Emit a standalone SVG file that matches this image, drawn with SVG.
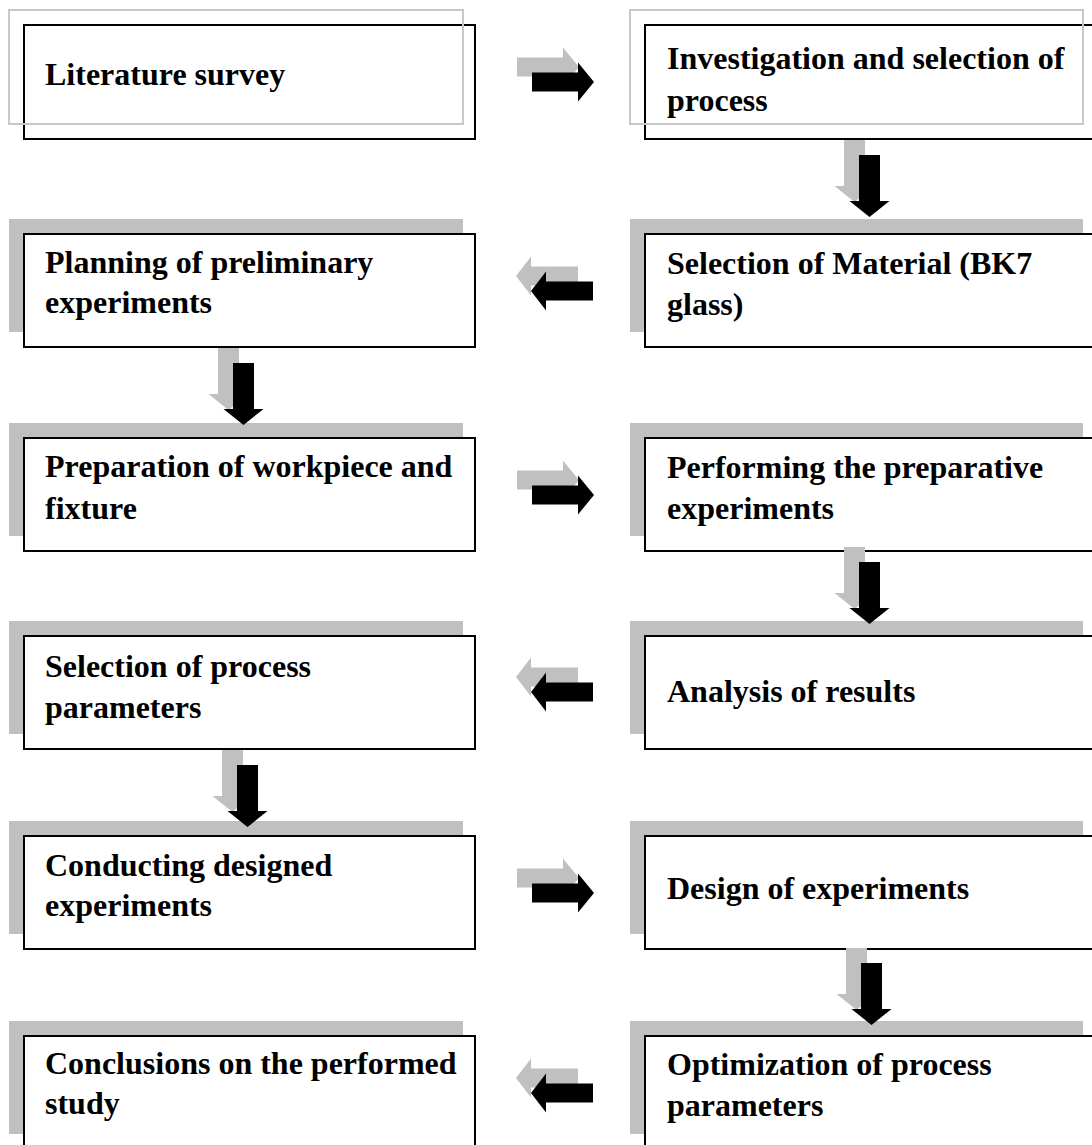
<svg xmlns="http://www.w3.org/2000/svg" xmlns:xlink="http://www.w3.org/1999/xlink" width="1092" height="1145" viewBox="0 0 1092 1145">
<style>
.bg{fill:#ffffff}
.sh{fill:#c0c0c0}
.sho{fill:none;stroke:#c8c8c8;stroke-width:2}
.box{fill:#ffffff;stroke:#000000;stroke-width:2}
.t{font-family:"Liberation Serif","Times New Roman",serif;font-weight:bold;font-size:32px;fill:#000000}
.ga{fill:#c0c0c0}
.ba{fill:#000000}
</style>
<defs>
<path id="down" d="M0,0 h21 v46 h9.5 l-20,16 l-20,-16 h9.5 z"/>
<path id="right" d="M0,-9.5 h46 v-10 l16,19.5 l-16,19.5 v-10 h-46 z"/>
<path id="left" d="M0,0 l15,-19.5 v10 h47 v19 h-47 v10 z"/>
</defs>
<rect class="bg" x="0" y="0" width="1092" height="1145"/>

<g id="n1">
<rect class="box" x="24" y="25" width="451" height="114"/>
<rect class="sho" x="9" y="10" width="454" height="114"/>
<text class="t" x="45" y="85">Literature survey</text>
</g>
<g id="n2">
<rect class="box" x="645" y="25" width="460" height="114"/>
<rect class="sho" x="630" y="10" width="453" height="114"/>
<text class="t" x="667" y="69">Investigation and selection of</text>
<text class="t" x="667" y="111">process</text>
</g>
<g id="n3">
<rect class="sh" x="630" y="219" width="453" height="113"/>
<rect class="box" x="645" y="234" width="460" height="113"/>
<text class="t" x="667" y="274">Selection of Material (BK7</text>
<text class="t" x="667" y="315">glass)</text>
</g>
<g id="n4">
<rect class="sh" x="9" y="219" width="454" height="113"/>
<rect class="box" x="24" y="234" width="451" height="113"/>
<text class="t" x="45" y="273">Planning of preliminary</text>
<text class="t" x="45" y="313">experiments</text>
</g>
<g id="n5">
<rect class="sh" x="9" y="423" width="454" height="113"/>
<rect class="box" x="24" y="438" width="451" height="113"/>
<text class="t" x="45" y="477">Preparation of workpiece and</text>
<text class="t" x="45" y="519">fixture</text>
</g>
<g id="n6">
<rect class="sh" x="630" y="423" width="453" height="113"/>
<rect class="box" x="645" y="438" width="460" height="113"/>
<text class="t" x="667" y="478">Performing the preparative</text>
<text class="t" x="667" y="519">experiments</text>
</g>
<g id="n7">
<rect class="sh" x="630" y="621" width="453" height="113"/>
<rect class="box" x="645" y="636" width="460" height="113"/>
<text class="t" x="667" y="702">Analysis of results</text>
</g>
<g id="n8">
<rect class="sh" x="9" y="621" width="454" height="113"/>
<rect class="box" x="24" y="636" width="451" height="113"/>
<text class="t" x="45" y="677">Selection of process</text>
<text class="t" x="45" y="718">parameters</text>
</g>
<g id="n9">
<rect class="sh" x="9" y="821" width="454" height="113"/>
<rect class="box" x="24" y="836" width="451" height="113"/>
<text class="t" x="45" y="876">Conducting designed</text>
<text class="t" x="45" y="916">experiments</text>
</g>
<g id="n10">
<rect class="sh" x="630" y="821" width="453" height="113"/>
<rect class="box" x="645" y="836" width="460" height="113"/>
<text class="t" x="667" y="899">Design of experiments</text>
</g>
<g id="n11">
<rect class="sh" x="630" y="1021" width="453" height="113"/>
<rect class="box" x="645" y="1036" width="460" height="113"/>
<text class="t" x="667" y="1075">Optimization of process</text>
<text class="t" x="667" y="1116">parameters</text>
</g>
<g id="n12">
<rect class="sh" x="9" y="1021" width="454" height="113"/>
<rect class="box" x="24" y="1036" width="451" height="113"/>
<text class="t" x="45" y="1074">Conclusions on the performed</text>
<text class="t" x="45" y="1114">study</text>
</g>

<g id="connectors">
<use class="ga" xlink:href="#right" x="517" y="67"/>
<use class="ba" xlink:href="#right" x="532" y="82"/>
<use class="ga" xlink:href="#down" x="844" y="140"/>
<use class="ba" xlink:href="#down" x="859" y="155"/>
<use class="ga" xlink:href="#left" x="516" y="276"/>
<use class="ba" xlink:href="#left" x="531" y="291"/>
<use class="ga" xlink:href="#down" x="218" y="348"/>
<use class="ba" xlink:href="#down" x="233" y="363"/>
<use class="ga" xlink:href="#right" x="517" y="480"/>
<use class="ba" xlink:href="#right" x="532" y="495"/>
<use class="ga" xlink:href="#down" x="844" y="547"/>
<use class="ba" xlink:href="#down" x="859" y="562"/>
<use class="ga" xlink:href="#left" x="516" y="677"/>
<use class="ba" xlink:href="#left" x="531" y="692"/>
<use class="ga" xlink:href="#down" x="222" y="750"/>
<use class="ba" xlink:href="#down" x="237" y="765"/>
<use class="ga" xlink:href="#right" x="517" y="878"/>
<use class="ba" xlink:href="#right" x="532" y="893"/>
<use class="ga" xlink:href="#down" x="846" y="948"/>
<use class="ba" xlink:href="#down" x="861" y="963"/>
<use class="ga" xlink:href="#left" x="516" y="1078"/>
<use class="ba" xlink:href="#left" x="531" y="1093"/>
</g>
</svg>
